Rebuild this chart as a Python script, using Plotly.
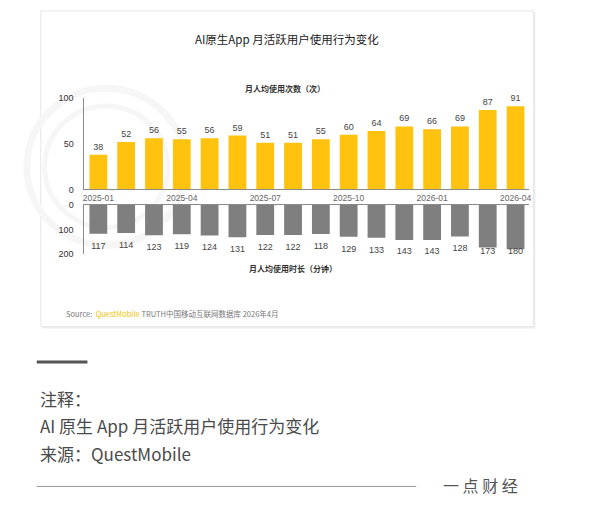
import plotly.graph_objects as go
import numpy as np

months = ["2025-01","2025-02","2025-03","2025-04","2025-05","2025-06","2025-07","2025-08",
          "2025-09","2025-10","2025-11","2025-12","2026-01","2026-02","2026-03","2026-04"]
usage_times = [38, 52, 56, 55, 56, 59, 51, 51, 55, 60, 64, 69, 66, 69, 87, 91]
usage_minutes = [117, 114, 123, 119, 124, 131, 122, 122, 118, 129, 133, 143, 143, 128, 173, 180]
tick_months = ["2025-01", "2025-04", "2025-07", "2025-10", "2026-01", "2026-04"]

W, H = 600, 515
def py(p):
    return 1 - p / H

CJK = "Noto Sans CJK SC"
fig = go.Figure()

fig.add_trace(go.Bar(
    x=months, y=usage_times, xaxis="x", yaxis="y",
    marker=dict(color="#FFC20E", line=dict(width=0)),
    width=0.64,
    text=[str(v) for v in usage_times], textposition="outside",
    textfont=dict(family="Liberation Sans", size=9, color="#444"),
    cliponaxis=False, showlegend=False, hoverinfo="skip",
))

fig.add_trace(go.Bar(
    x=months, y=usage_minutes, xaxis="x2", yaxis="y2",
    marker=dict(color="#7f7f7f", line=dict(width=0)),
    width=0.64, showlegend=False, hoverinfo="skip",
))
label_pos = np.minimum(np.array(usage_minutes) + 52, 192)
fig.add_trace(go.Scatter(
    x=months, y=label_pos, xaxis="x2", yaxis="y2", mode="text",
    text=[str(v) for v in usage_minutes],
    textfont=dict(family="Liberation Sans", size=9, color="#444"),
    cliponaxis=False, showlegend=False, hoverinfo="skip",
))

xdom = [83 / W, 531 / W]
fig.update_layout(
    width=W, height=H, margin=dict(l=0, r=0, t=0, b=0),
    paper_bgcolor="white", plot_bgcolor="rgba(0,0,0,0)",
    bargap=0.36,
    xaxis=dict(domain=xdom, anchor="y", type="category", range=[-0.5, 15.5],
               tickvals=tick_months, ticktext=tick_months, showline=True,
               linecolor="#8a8a8a", linewidth=1, ticks="", showgrid=False,
               tickfont=dict(family="Liberation Sans", size=8.5, color="#666")),
    yaxis=dict(domain=[py(188), py(95)], anchor="x", range=[0, 100],
               tickvals=[0, 50, 100], showline=True, linecolor="#8a8a8a",
               showgrid=False, zeroline=False, ticks="", ticklabelstandoff=8,
               tickfont=dict(family="Liberation Sans", size=9, color="#333")),
    xaxis2=dict(domain=xdom, anchor="y2", type="category", range=[-0.5, 15.5],
                showticklabels=False, showline=True, side="top",
                linecolor="#8a8a8a", ticks="", showgrid=False),
    yaxis2=dict(domain=[py(254), py(204)], anchor="x2", range=[200, 0],
                tickvals=[0, 100, 200], showline=True, linecolor="#8a8a8a",
                showgrid=False, zeroline=False, ticks="", ticklabelstandoff=8,
                tickfont=dict(family="Liberation Sans", size=9, color="#333")),
)

shapes = []
# card shadow + card
shapes.append(dict(type="rect", xref="paper", yref="paper", x0=40/W, x1=537/W,
                   y0=py(330), y1=py(7), fillcolor="#eeeeee", line=dict(width=0), layer="below"))
shapes.append(dict(type="rect", xref="paper", yref="paper", x0=39/W, x1=535/W,
                   y0=py(328), y1=py(6), fillcolor="white", line=dict(color="#e6e6e6", width=1), layer="below"))
# faint watermark rings
for r, w in [(80, 7), (62, 5)]:
    cx, cy = 105, 165
    shapes.append(dict(type="circle", xref="paper", yref="paper",
                       x0=(cx - r)/W, x1=(cx + r)/W, y0=py(cy + r), y1=py(cy - r),
                       line=dict(color="#f6f6f6", width=w), layer="below"))
# short dark line
shapes.append(dict(type="line", xref="paper", yref="paper", x0=35/W, x1=86/W,
                   y0=py(364), y1=py(364), line=dict(color="#555", width=3)))
# long bottom line
shapes.append(dict(type="line", xref="paper", yref="paper", x0=35/W, x1=417/W,
                   y0=py(491), y1=py(491), line=dict(color="#999", width=1)))
fig.update_layout(shapes=shapes)

ann = []
def text(x, y, s, size, color="#333", xanchor="center", family=CJK):
    ann.append(dict(x=x/W, y=py(y), xref="paper", yref="paper", text=s, showarrow=False,
                    xanchor=xanchor, yanchor="middle",
                    font=dict(family=family, size=size, color=color)))

text(287, 35, "AI原生App 月活跃用户使用行为变化", 11.5, "#222")
text(285, 85, "<b>月人均使用次数（次）</b>", 8, "#333")
text(293, 269, "<b>月人均使用时长（分钟）</b>", 8, "#333")
text(62, 315, "Source:  <span style='color:#F2C200'>QuestMobile</span> TRUTH中国移动互联网数据库 2026年4月",
     7.5, "#777", xanchor="left")
text(36, 401, "注释：", 17, "#4a4a4a", xanchor="left")
text(36, 429, "AI 原生 App 月活跃用户使用行为变化", 17, "#4a4a4a", xanchor="left")
text(36, 457, "来源：QuestMobile", 17, "#4a4a4a", xanchor="left")
text(482, 490, "一 点 财 经", 16, "#555")
fig.update_layout(annotations=ann)

fig.write_html("out.html")
